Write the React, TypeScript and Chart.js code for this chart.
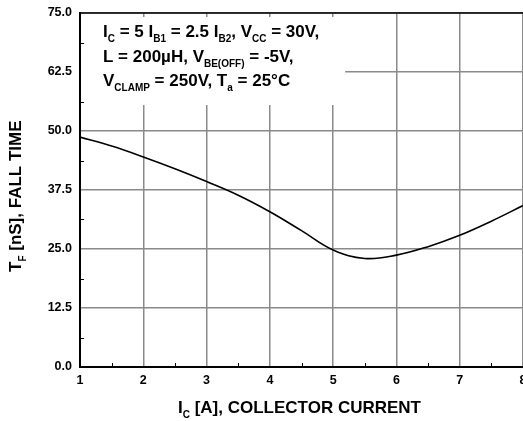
import React, { useEffect, useRef } from "react";
import { Chart, registerables } from "chart.js";

Chart.register(...registerables);

// ---- data ----
const currentA = [1, 1.5, 2, 2.5, 3, 3.5, 4, 4.5, 5, 5.5, 6, 6.5, 7, 7.5, 8];
const fallTimeNs = [48.7, 46.8, 44.5, 42.0, 39.3, 36.4, 32.9, 28.9, 24.8, 23.0, 23.7, 25.5, 27.9, 30.9, 34.2];
const yTickLabels = ["0.0", "12.5", "25.0", "37.5", "50.0", "62.5", "75.0"];
const xMinorTicks = [1.5, 2.5, 3.5, 4.5, 5.5, 6.5, 7.5];
const yMinorTicks = [6.25, 18.75, 31.25, 43.75, 56.25, 68.75];

type Seg = { t: string; sub?: boolean };
const xTitle: Seg[] = [{ t: "I" }, { t: "C", sub: true }, { t: " [A], COLLECTOR CURRENT" }];
const yTitle: Seg[] = [{ t: "T" }, { t: "F", sub: true }, { t: " [nS], FALL TIME" }];
const conditionLines: Seg[][] = [
  [
    { t: "I" }, { t: "C", sub: true }, { t: " = 5 I" }, { t: "B1", sub: true },
    { t: " = 2.5 I" }, { t: "B2", sub: true }, { t: ", V" }, { t: "CC", sub: true }, { t: " = 30V," },
  ],
  [{ t: "L = 200µH, V" }, { t: "BE(OFF)", sub: true }, { t: " = -5V," }],
  [{ t: "V" }, { t: "CLAMP", sub: true }, { t: " = 250V, T" }, { t: "a", sub: true }, { t: " = 25°C" }],
];

const MAIN_FONT = "bold 17px 'Liberation Sans', Arial, sans-serif";
const SUB_FONT = "bold 10px 'Liberation Sans', Arial, sans-serif";
const TICK_FONT = { family: "'Liberation Sans', Arial, sans-serif", weight: "bold" as const, size: 12.5 };

function measureRich(ctx: CanvasRenderingContext2D, segs: Seg[]) {
  let w = 0;
  for (const s of segs) {
    ctx.font = s.sub ? SUB_FONT : MAIN_FONT;
    w += ctx.measureText(s.t).width;
  }
  return w;
}

function drawRich(ctx: CanvasRenderingContext2D, segs: Seg[], x: number, y: number, off = 5) {
  let cx = x;
  ctx.textAlign = "left";
  ctx.textBaseline = "alphabetic";
  ctx.fillStyle = "#000";
  for (const s of segs) {
    ctx.font = s.sub ? SUB_FONT : MAIN_FONT;
    ctx.fillText(s.t, cx, s.sub ? y + off : y);
    cx += ctx.measureText(s.t).width;
  }
}

const decorPlugin = {
  id: "decor",
  beforeDatasetsDraw(chart: any) {
    const ctx = chart.ctx as CanvasRenderingContext2D;
    const x = chart.scales.x;
    const y = chart.scales.y;
    ctx.save();
    ctx.fillStyle = "#ffffff";
    const left = x.getPixelForValue(1) + 1;
    const top = y.getPixelForValue(75) + 4;
    const right = x.getPixelForValue(5.19);
    const bottom = y.getPixelForValue(55.5);
    ctx.fillRect(left, top, right - left, bottom - top);
    ctx.restore();
  },
  afterDatasetsDraw(chart: any) {
    const ctx = chart.ctx as CanvasRenderingContext2D;
    const xs = chart.scales.x;
    const ys = chart.scales.y;
    const area = chart.chartArea;
    ctx.save();
    // top frame
    ctx.strokeStyle = "#000";
    ctx.lineWidth = 1.5;
    ctx.beginPath();
    ctx.moveTo(area.left, area.top);
    ctx.lineTo(area.right, area.top);
    ctx.stroke();
    // minor ticks
    ctx.lineWidth = 1;
    ctx.beginPath();
    for (const v of yMinorTicks) {
      const py = Math.round(ys.getPixelForValue(v)) + 0.5;
      ctx.moveTo(area.left, py);
      ctx.lineTo(area.left + 4, py);
    }
    for (const v of xMinorTicks) {
      const px = Math.round(xs.getPixelForValue(v)) + 0.5;
      ctx.moveTo(px, area.bottom);
      ctx.lineTo(px, area.bottom - 4);
    }
    ctx.stroke();
    // conditions text
    const lx = xs.getPixelForValue(1) + 23;
    const baselines = [37, 61.5, 86];
    conditionLines.forEach((segs, i) => drawRich(ctx, segs, lx, baselines[i]));
    // x title
    const wx = measureRich(ctx, xTitle);
    const cx = (area.left + area.right) / 2 - 2;
    drawRich(ctx, xTitle, cx - wx / 2, 413);
    // y title
    ctx.translate(21, 272);
    ctx.rotate(-Math.PI / 2);
    drawRich(ctx, yTitle, 0, 0);
    ctx.restore();
  },
};

export default function App() {
  const ref = useRef<HTMLCanvasElement | null>(null);
  useEffect(() => {
    document.body.style.margin = "0";
    const canvas = ref.current;
    if (!canvas) return;
    const chart = new Chart(canvas, {
      type: "line",
      data: {
        datasets: [
          {
            data: currentA.map((x, i) => ({ x, y: fallTimeNs[i] })),
            borderColor: "#000",
            borderWidth: 1.6,
            pointRadius: 0,
            tension: 0.4,
            fill: false,
          },
        ],
      },
      options: {
        animation: false,
        responsive: false,
        devicePixelRatio: 1,
        layout: { padding: { top: 13, left: 0, right: 0, bottom: 0 } },
        plugins: { legend: { display: false }, tooltip: { enabled: false } },
        scales: {
          x: {
            type: "linear",
            min: 1,
            max: 8,
            ticks: { stepSize: 1, font: TICK_FONT, color: "#000", padding: 6, maxRotation: 0, autoSkip: false },
            grid: { color: "#8a8a8a", lineWidth: 1.5, drawTicks: false },
            border: { color: "#000", width: 2 },
            afterFit: (s: any) => {
              s.height = 54;
              s.paddingLeft = 0;
              s.paddingRight = 0;
              s.paddingTop = 0;
              s.paddingBottom = 0;
            },
          },
          y: {
            type: "linear",
            min: 0,
            max: 75,
            ticks: {
              stepSize: 12.5,
              font: TICK_FONT,
              color: "#000",
              padding: 8,
              callback: (_v: any, i: number) => yTickLabels[i] ?? "",
            },
            grid: { color: "#8a8a8a", lineWidth: 1.5, drawTicks: false },
            border: { color: "#000", width: 2 },
            afterFit: (s: any) => {
              s.width = 80;
              s.paddingLeft = 0;
              s.paddingRight = 0;
              s.paddingTop = 0;
              s.paddingBottom = 0;
            },
          },
        },
      } as any,
      plugins: [decorPlugin],
    });
    return () => chart.destroy();
  }, []);
  return <canvas ref={ref} width={523} height={421} style={{ display: "block" }} />;
}
